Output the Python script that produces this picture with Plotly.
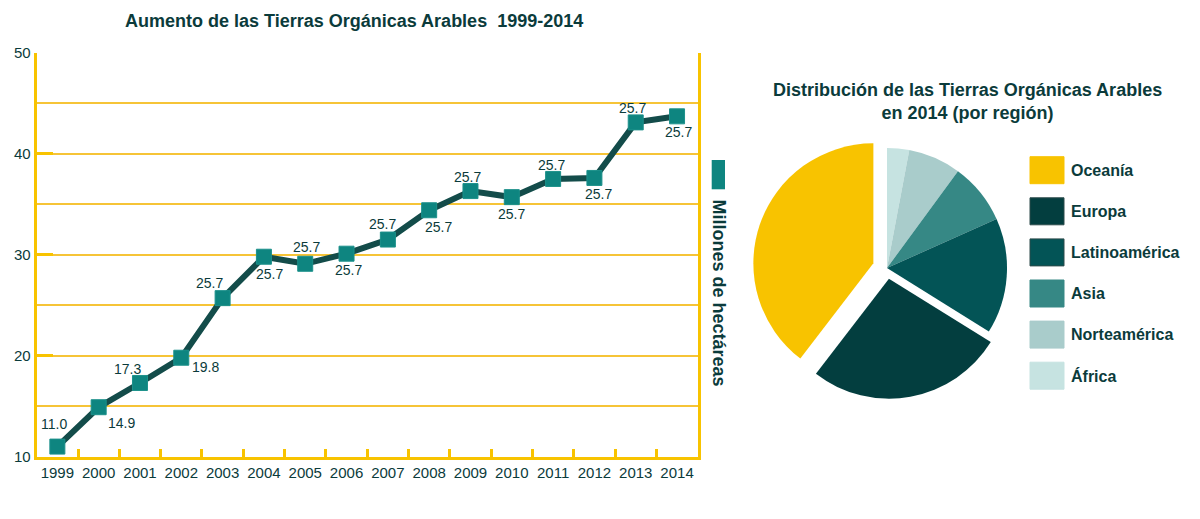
import plotly.graph_objects as go

# datos: superficie orgánica (millones de hectáreas)
years = [str(y) for y in range(1999, 2015)]
hectares = [11.0, 14.9, 17.3, 19.8, 25.7, 29.8, 29.1, 30.1, 31.5, 34.4, 36.3, 35.7, 37.5, 37.6, 43.1, 43.7]
point_labels = ["11.0", "14.9", "17.3", "19.8", "25.7", "25.7", "25.7", "25.7",
                "25.7", "25.7", "25.7", "25.7", "25.7", "25.7", "25.7", "25.7"]

regions = ["Oceanía", "Europa", "Latinoamérica", "Asia", "Norteamérica", "África"]
region_share = [17.3, 11.6, 6.8, 3.6, 3.1, 1.3]

# estilo
GOLD = "#F8C300"
DARK = "#0B3B3B"
region_colors = ["#F8C300", "#033E3F", "#035456", "#368885", "#A9CCCB", "#C6E3E1"]
region_pull = [0.12, 0.09, 0, 0, 0, 0]
label_dx = [-3, 23, -12, 24, -13, 6, 1, 2, -5, 9, -3, 0, -2, 4, -3, 1]
label_dy = [23, -16, 14, -9, 15, -17, 17, -16, 16, -17, 14, -17, 14, -16, 14, -16]
FONT = "Liberation Sans, Arial, sans-serif"

# la pagina tiene 8px de margen en el body
OFF = 8
W, H = 1200 - 2 * OFF, 519 - 2 * OFF


def px(x):
    return (x - OFF) / W


def py(y):
    return 1 - (y - OFF) / H


fig = go.Figure()

# linea
fig.add_trace(go.Scatter(
    x=years, y=hectares, mode="lines+markers",
    line=dict(color="#134C4A", width=6),
    marker=dict(symbol="square", size=15, color="#0E8580", line=dict(color="#1C918B", width=1)),
    showlegend=False, hoverinfo="x+y"))

for i, (y, t, dx, dy) in enumerate(zip(hectares, point_labels, label_dx, label_dy)):
    fig.add_annotation(x=i, y=y, text=t, showarrow=False, xshift=dx, yshift=dy,
                       xanchor="center", yanchor="middle",
                       font=dict(size=14, color=DARK, family=FONT))

# pie (sentido horario desde arriba: África ... Oceanía)
fig.add_trace(go.Pie(
    labels=regions[::-1], values=region_share[::-1], sort=False, direction="clockwise",
    rotation=0,
    marker=dict(colors=region_colors[::-1], line=dict(width=0)),
    pull=region_pull[::-1], textinfo="none", showlegend=False,
    domain=dict(x=[px(752.6), px(1021.4)], y=[py(402.4), py(133.6)])))

fig.update_layout(
    width=W, height=H, margin=dict(l=0, r=0, t=0, b=0),
    plot_bgcolor="white", paper_bgcolor="white",
    font=dict(family=FONT, color=DARK),
    xaxis=dict(domain=[px(36.7), px(697.7)], type="category", range=[-0.5, 15.5],
               tickson="boundaries", tickangle=0, automargin=False,
               ticks="inside", ticklen=8, tickwidth=3, tickcolor=GOLD,
               showline=True, linecolor=GOLD, linewidth=3, showgrid=False,
               tickfont=dict(size=15, color=DARK), fixedrange=True),
    yaxis=dict(domain=[py(456.7), py(52.7)], range=[10, 50], automargin=False,
               tickvals=[10, 20, 30, 40, 50], ticks="inside", ticklen=16, tickwidth=3,
               tickcolor=GOLD, showline=True, linecolor=GOLD, linewidth=3, mirror=True,
               showgrid=True, gridcolor="#F6C437", gridwidth=1.5,
               minor=dict(dtick=5, tick0=0, showgrid=True, gridcolor="#F6C437", gridwidth=1.5, ticks=""),
               zeroline=False, tickfont=dict(size=15, color=DARK), fixedrange=True),
)

# titulos
fig.add_annotation(x=px(354), y=py(21), xref="paper", yref="paper",
                   xanchor="center", yanchor="middle",
                   text="<b>Aumento de las Tierras Orgánicas Arables\u00a0 1999-2014</b>",
                   showarrow=False, font=dict(size=18, color=DARK))
fig.add_annotation(x=px(967), y=py(101), xref="paper", yref="paper",
                   xanchor="center", yanchor="middle",
                   text="<b>Distribución de las Tierras Orgánicas Arables<br>en 2014 (por región)</b>",
                   showarrow=False, font=dict(size=18, color=DARK))

# leyenda de la linea
fig.add_shape(type="rect", xref="paper", yref="paper", x0=px(711.7), x1=px(725),
              y0=py(189.3), y1=py(160), fillcolor="#0E8580", line=dict(width=0))
fig.add_annotation(x=px(718.5), y=py(293), xref="paper", yref="paper",
                   xanchor="center", yanchor="middle",
                   text="<b>Millones de hectáreas</b>", textangle=90, showarrow=False,
                   font=dict(size=18, color=DARK))

# leyenda del pie
for i, (name, col) in enumerate(zip(regions, region_colors)):
    top = 156.7 + i * 41.1
    fig.add_shape(type="rect", xref="paper", yref="paper", x0=px(1030), x1=px(1064),
                  y0=py(top + 27), y1=py(top), fillcolor=col,
                  line=dict(width=1, color="#2C4A4A" if i in (1, 2) else col))
    fig.add_annotation(x=px(1069), y=py(top + 13.5), xref="paper", yref="paper",
                       text="<b>" + name + "</b>", showarrow=False,
                       xanchor="left", yanchor="middle",
                       font=dict(size=16, color=DARK))

fig.write_html("out.html")
